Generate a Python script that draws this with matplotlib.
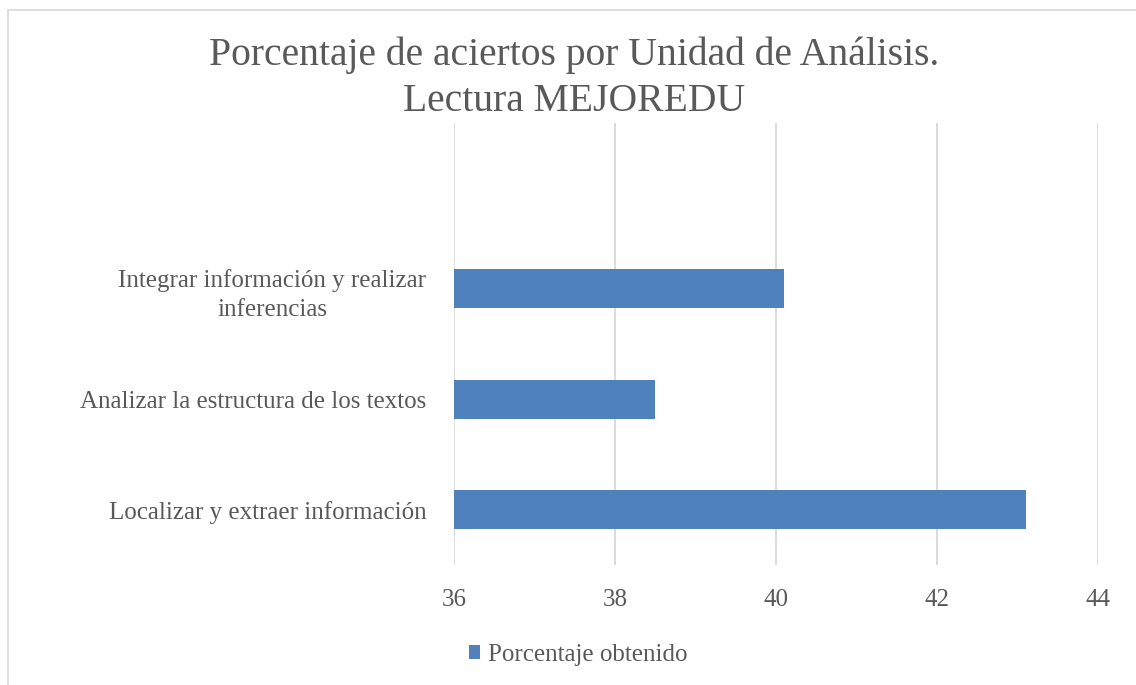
import matplotlib.pyplot as plt
from matplotlib.patches import Rectangle

# Datos del gráfico
categorias = ['Localizar y extraer información',
              'Analizar la estructura de los textos',
              'Integrar información y realizar\ninferencias']
valores = [43.1, 38.5, 40.1]
ticks_x = [36, 38, 40, 42, 44]
serie = 'Porcentaje obtenido'
titulo = 'Porcentaje de aciertos por Unidad de Análisis.\nLectura MEJOREDU'

gris = '#595959'
azul = '#4f81bd'

plt.rcParams['font.family'] = ['Liberation Serif', 'DejaVu Serif']

fig = plt.figure(figsize=(11.36, 6.85), dpi=100)
ax = fig.add_axes([454 / 1136, 1 - 565 / 685, (1098 - 454) / 1136, (565 - 123) / 685])

# Borde del área del gráfico
fig.patches.append(Rectangle((8 / 1136, -0.1), 1.2, 1 - 10 / 685 + 0.1,
                             transform=fig.transFigure, fill=False,
                             edgecolor='#d9d9d9', linewidth=1.2))

pos = list(range(len(categorias)))
ax.barh(pos, [v - 36 for v in valores], left=36, height=0.35,
        color=azul, label=serie, zorder=3)

ax.set_xlim(36, 44)
ax.set_ylim(-0.5, 3.5)
ax.set_xticks(ticks_x)
ax.set_yticks(pos)
ax.set_yticklabels(categorias, ha='right', multialignment='center', linespacing=1.4)
ax.tick_params(axis='y', length=0, pad=20, labelsize=18, labelcolor=gris)
ax.tick_params(axis='x', length=0, pad=17, labelsize=18, labelcolor=gris)

ax.grid(axis='x', color='#d9d9d9', linewidth=1.3, zorder=0)
for s in ax.spines.values():
    s.set_visible(False)

fig.text(574 / 1136, 1 - 37 / 685, titulo, fontsize=28.5, color=gris, ha='center',
         va='top', linespacing=1.32, multialignment='center')

fig.legend(loc='center', bbox_to_anchor=(578 / 1136, 1 - 655 / 685), frameon=False,
           fontsize=18, labelcolor=gris, handlelength=0.45, handleheight=0.45,
           handletextpad=0.3)

fig.savefig('out.png', dpi=100)
